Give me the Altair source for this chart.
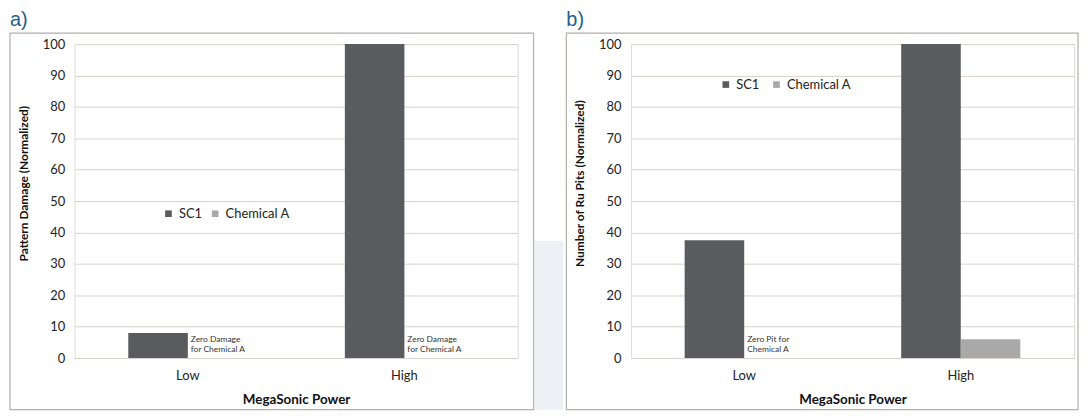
import altair as alt
import pandas as pd

powers = ["Low", "High"]
series = ["SC1", "Chemical A"]
damage_sc1 = [8, 100]
damage_chem = [0, 0]
pits_sc1 = [37.5, 100]
pits_chem = [0, 6]
y_ticks = [0, 10, 20, 30, 40, 50, 60, 70, 80, 90, 100]
colors = ["#595b5e", "#a9a9a9"]
notes_a = ["Zero Damage\nfor Chemical A", "Zero Damage\nfor Chemical A"]
notes_a_power = ["Low", "High"]
notes_b = ["Zero Pit for\nChemical A"]
notes_b_power = ["Low"]

FONT = "Lato"
W, H = 446, 316


def frame(sc1, chem):
    rows = []
    for p, a, b in zip(powers, sc1, chem):
        rows.append({"power": p, "series": "SC1", "value": a})
        rows.append({"power": p, "series": "Chemical A", "value": b})
    return pd.DataFrame(rows)


def panel(df, notes, note_powers, ytitle, label, legx, legy, colpad, box_right, show_gap):
    xaxis = alt.Axis(title="MegaSonic Power", labelAngle=0, labelPadding=12,
                     labelFontSize=13, labelFont=FONT, labelColor="#222",
                     titleFont=FONT, titleFontSize=13.5, titleFontWeight="bold",
                     titleColor="#111", titlePadding=10, domain=False, ticks=False)
    yaxis = alt.Axis(values=y_ticks, title=ytitle, labelFontSize=13, labelFont=FONT,
                     labelColor="#222", labelPadding=10, ticks=False, domain=False,
                     gridColor="#d9d2ce", titleFont=FONT, titleFontSize=12,
                     titleFontWeight="bold", titleColor="#111", titlePadding=12,
                     titleY=140)
    xscale = alt.Scale(paddingInner=0.45, paddingOuter=0.248)
    yscale = alt.Scale(domain=[0, 100], nice=False)
    bars = alt.Chart(df).mark_bar().encode(
        x=alt.X("power:N", sort=powers, scale=xscale, axis=xaxis),
        xOffset=alt.XOffset("series:N", sort=series, scale=alt.Scale(paddingInner=0)),
        y=alt.Y("value:Q", scale=yscale, axis=yaxis),
        color=alt.Color("series:N", sort=series,
                        scale=alt.Scale(domain=series, range=colors),
                        legend=alt.Legend(title=None, orient="none", direction="horizontal",
                                          legendX=legx, legendY=legy, symbolType="square",
                                          symbolSize=45, labelFont=FONT, labelFontSize=13,
                                          labelColor="#222", columnPadding=colpad,
                                          symbolStrokeWidth=0)),
    )
    ndf = pd.DataFrame({"power": note_powers, "series": ["Chemical A"] * len(notes),
                        "note": notes, "yv": [7.4] * len(notes)})
    text = alt.Chart(ndf).mark_text(align="left", baseline="top", fontSize=8.5, font=FONT,
                                    color="#333", lineBreak="\n", dx=-27, lineHeight=10).encode(
        x=alt.X("power:N", sort=powers, scale=xscale, axis=xaxis),
        xOffset=alt.XOffset("series:N", sort=series),
        y=alt.Y("yv:Q", scale=yscale, axis=yaxis),
        text="note:N",
    )
    one = pd.DataFrame({"k": [0]})
    box = alt.Chart(one).mark_rect(fill=None, stroke="#b5aeab", strokeWidth=1.2).encode(
        x=alt.value(-65), x2=alt.value(W + box_right), y=alt.value(-11), y2=alt.value(H + 52))
    lab = alt.Chart(one).mark_text(align="left", baseline="top", fontSize=20,
                                   font="Liberation Sans", color="#1f5f8b").encode(
        x=alt.value(-65), y=alt.value(-34), text=alt.value(label))
    layers = [bars, text, box, lab]
    if show_gap:
        gap = alt.Chart(one).mark_rect(fill="#edf1f5").encode(
            x=alt.value(W + 17), x2=alt.value(W + 46), y=alt.value(198), y2=alt.value(H + 52))
        layers.insert(0, gap)
    return alt.layer(*layers).properties(width=W, height=H)


pa = panel(frame(damage_sc1, damage_chem), notes_a, notes_a_power,
           "Pattern Damage (Normalized)", "a)", 88, 164, 6, 16, True)
pb = panel(frame(pits_sc1, pits_chem), notes_b, notes_b_power,
           "Number of Ru Pits (Normalized)", "b)", 89, 34, 10, 4, False)

chart = alt.hconcat(pa, pb, spacing=0).resolve_legend(color="independent").resolve_scale(
    color="independent").properties(padding=0).configure_view(strokeWidth=0).configure(
    background="white")

chart.save("out.html", embed_options={"renderer": "svg", "actions": False})
